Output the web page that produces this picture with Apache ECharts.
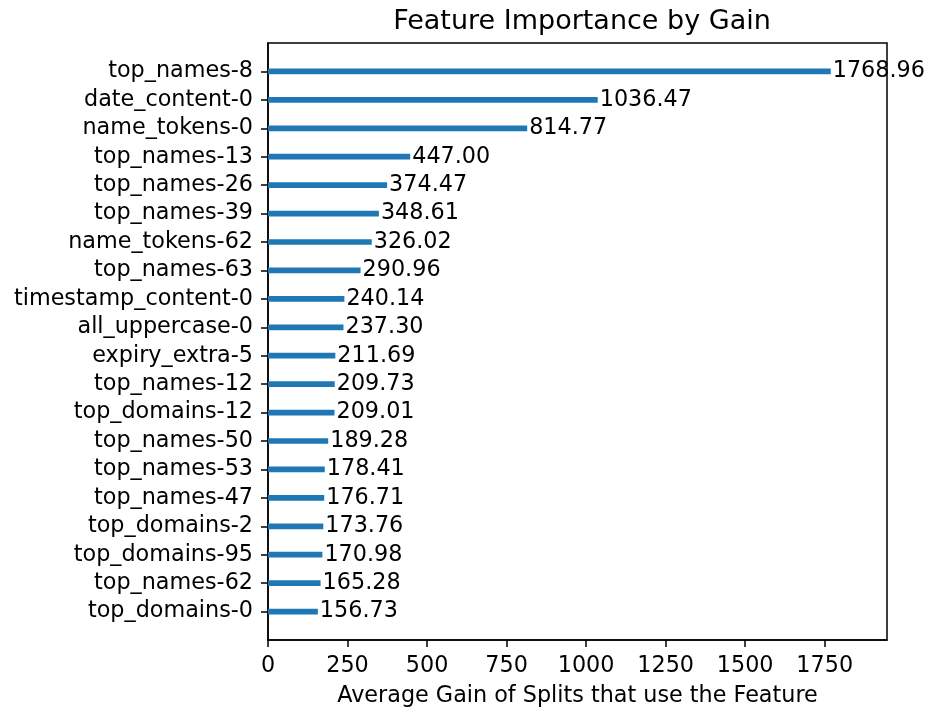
<!DOCTYPE html>
<html>
<head>
<meta charset="utf-8">
<script src="https://cdn.jsdelivr.net/npm/echarts@6/dist/echarts.min.js"></script>
<style>
  html, body { margin: 0; padding: 0; background: #fff; }
  #chart { width: 925px; height: 707px; }
</style>
</head>
<body>
<div id="chart"></div>
<script>
// Features listed top to bottom, with their average gain
const features = [
  'top_names-8', 'date_content-0', 'name_tokens-0', 'top_names-13', 'top_names-26',
  'top_names-39', 'name_tokens-62', 'top_names-63', 'timestamp_content-0', 'all_uppercase-0',
  'expiry_extra-5', 'top_names-12', 'top_domains-12', 'top_names-50', 'top_names-53',
  'top_names-47', 'top_domains-2', 'top_domains-95', 'top_names-62', 'top_domains-0'
];
const gains = [
  1768.96, 1036.47, 814.77, 447.00, 374.47,
  348.61, 326.02, 290.96, 240.14, 237.30,
  211.69, 209.73, 209.01, 189.28, 178.41,
  176.71, 173.76, 170.98, 165.28, 156.73
];
const xTicks = [0, 250, 500, 750, 1000, 1250, 1500, 1750];

const FONT = 'DejaVu Sans';
const FS = 22.3;
const indices = features.map((_, i) => i);

const chart = echarts.init(document.getElementById('chart'), null, { renderer: 'canvas' });

chart.setOption({
  backgroundColor: '#fff',
  animation: false,
  title: {
    text: 'Feature Importance by Gain',
    left: 577,
    textAlign: 'center',
    top: 3,
    textStyle: { fontFamily: FONT, fontSize: 27, fontWeight: 'normal', color: '#000' }
  },
  grid: {
    left: 268, top: 43, width: 619, height: 597,
    containLabel: false,
    outerBoundsMode: 'none',
    show: true, borderColor: '#000', borderWidth: 1.5, backgroundColor: '#fff'
  },
  xAxis: {
    type: 'value',
    min: 0,
    max: v => v.max * 1.1,
    interval: 250,
    name: 'Average Gain of Splits that use the Feature',
    nameLocation: 'middle',
    nameGap: 45,
    nameTextStyle: { fontFamily: FONT, fontSize: FS, color: '#000' },
    axisLine: { show: true, onZero: false, lineStyle: { color: '#000', width: 1.5 } },
    axisTick: { show: true, inside: false, length: 7, lineStyle: { color: '#000', width: 1.5 }, customValues: xTicks },
    axisLabel: {
      fontFamily: FONT, fontSize: FS, color: '#000', margin: 15,
      customValues: xTicks, showMaxLabel: true,
      formatter: v => String(v)
    },
    splitLine: { show: false }
  },
  yAxis: {
    type: 'value',
    min: -1,
    max: features.length,
    inverse: true,
    axisLine: { show: true, onZero: false, lineStyle: { color: '#000', width: 1.5 } },
    axisTick: { show: true, inside: false, length: 7, lineStyle: { color: '#000', width: 1.5 }, customValues: indices },
    axisLabel: {
      fontFamily: FONT, fontSize: FS, color: '#000', margin: 15,
      customValues: indices,
      formatter: v => features[v] ?? ''
    },
    splitLine: { show: false }
  },
  series: [{
    type: 'custom',
    clip: false,
    data: gains.map((g, i) => [g, i]),
    encode: { x: 0, y: 1 },
    renderItem: (params, api) => {
      const val = api.value(0);
      const row = api.value(1);
      const p0 = api.coord([0, row]);
      const p1 = api.coord([val, row]);
      const h = api.size([0, 0.2])[1];
      return {
        type: 'rect',
        shape: { x: p0[0], y: p0[1] - h / 2, width: p1[0] - p0[0], height: h },
        style: { fill: '#1f77b4' },
        textContent: {
          style: {
            text: val.toFixed(2),
            fill: '#000',
            fontFamily: FONT,
            fontSize: FS
          },
          z2: 100
        },
        textConfig: { position: 'right', distance: 2 }
      };
    },
    z: 5
  }]
});
</script>
</body>
</html>
